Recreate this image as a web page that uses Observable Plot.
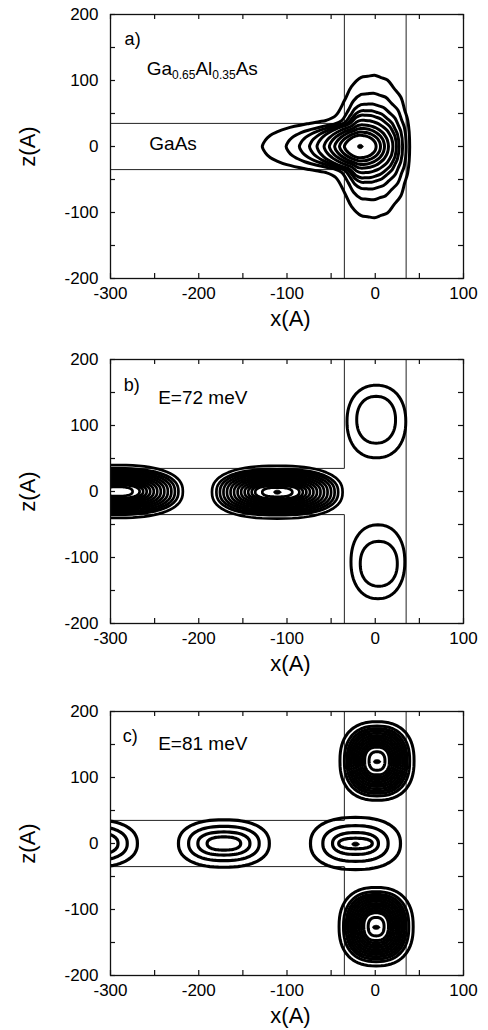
<!DOCTYPE html>
<html>
<head>
<meta charset="utf-8">
<script src="https://cdn.jsdelivr.net/npm/d3@7"></script>
<script src="https://cdn.jsdelivr.net/npm/@observablehq/plot@0.6"></script>
<style>
  html, body { margin: 0; padding: 0; background: #fff; }
  svg { display: block; }
</style>
</head>
<body>
<div id="chart"></div>
<script>
const FONT = "'Liberation Sans', Arial, Helvetica, sans-serif";

// ---- axes ----
const xTickLabels = [-300, -200, -100, 0, 100];
const zTickLabels = [-200, -100, 0, 100, 200];
const xMinorTicks = [-300, -250, -200, -150, -100, -50, 0, 50, 100];
const zMinorTicks = [-200, -150, -100, -50, 0, 50, 100, 150, 200];

// ---- T-shaped structure outline (GaAs wire along x, slab along z) ----
const structX = [[-300, -35, -35], [-300, -35, -35], [35, 35]];
const structZ = [[35, 35, 200], [-35, -35, -200], [200, -200]];

// ---- panel a: ground state, teardrop contours ----
const aCenterX = -17, aCenterZ = 0;
const aLeft  = [111, 84, 69, 57.5, 49, 41, 35, 29, 23.5, 18];   // distance centre -> left tip
const aRight = [56, 52, 48, 44, 41, 37, 32, 27.5, 23, 18];      // distance centre -> right edge
const aTop   = [108, 81, 65, 55, 48, 40, 33, 27.5, 22, 17];     // max height
const aTail  = [1, 0.9, 0.75, 0.6, 0.45, 0.35, 0.25, 0.15, 0.08, 0]; // share of the wire tail
const aShapeX = [-1, -0.97, -0.92, -0.85, -0.75, -0.52, -0.35, -0.25, -0.16, -0.09, 0.02, 0.29, 0.55, 0.82, 0.96, 1];
const aShapeZ = [0, 0.085, 0.155, 0.204, 0.255, 0.324, 0.365, 0.435, 0.648, 0.839, 0.97, 1.0, 0.933, 0.694, 0.37, 0];

// ---- panel b: E = 72 meV ----
const bWireCX = [-292, -111];
const bWireCZ = [0, -1];
const bWireHW = [74, 69, 65, 61, 57, 53, 49, 45, 41, 37, 33, 29, 25, 17];
const bWireHH = [40, 35, 32.5, 30, 27.5, 25, 22.5, 20, 17.5, 15, 13, 11.5, 10, 7];
const bSlabCX = [1.3, 1, 3, 4];
const bSlabCZ = [106, 108.7, -106.5, -109.5];
const bSlabHW = [33.3, 22, 30.5, 21];
const bSlabHH = [55, 35.5, 56, 34];
const bDotX = [-111], bDotZ = [-1];

// ---- panel c: E = 81 meV ----
const cWireCX = [-321, -171.5, -22.4];
const cWireHW = [[51.5, 40, 29.5, 19], [51.5, 40, 29.5, 19], [51, 37, 26, 19]];
const cWireHH = [[36, 26, 17.5, 10], [36, 26, 17.5, 10], [39.5, 27, 16.5, 8]];
const cSlabCX = [2, 1];
const cSlabCZ = [125, -126];
const cSlabHW = [42, 37, 34, 31.5, 29, 26.5, 24, 21.5, 19, 16.5, 14, 9];
const cSlabHH = [59.5, 53, 49, 45.5, 42, 38.5, 35, 31.5, 28, 24.5, 21, 14];
const cDotX = [2, 1, -22.4], cDotZ = [124, -127, -1];

// ---------- layout constants ----------
const W = 488, ML = 110, MR = 25, MT = 14, PH = 264, TICK = 5;
const X0 = -300, X1 = 100, Z0 = -200, Z1 = 200;
const tickDX = TICK * (X1 - X0) / (W - ML - MR);
const tickDZ = TICK * (Z1 - Z0) / PH;

// ---------- geometry helpers ----------
function ringRows(id, cx, cz, hw, hh, p = 2, n = 72) {
  const rows = [];
  for (let i = 0; i < n; i++) {
    const t = 2 * Math.PI * i / n;
    const c = Math.cos(t), s = Math.sin(t);
    rows.push({
      ring: id,
      x: cx + hw * Math.sign(c) * Math.pow(Math.abs(c), 2 / p),
      z: cz + hh * Math.sign(s) * Math.pow(Math.abs(s), 2 / p)
    });
  }
  return rows;
}

function structRows() {
  const rows = [];
  structX.forEach((xs, k) => xs.forEach((x, j) => rows.push({seg: k, x, z: structZ[k][j]})));
  return rows;
}

function teardropRows() {
  const tmpl = d3.scaleLinear().domain(aShapeX).range(aShapeZ);
  const egg = nx => nx >= 0 ? Math.sqrt(Math.max(0, 1 - nx * nx))
                            : Math.pow(Math.max(0, 1 - Math.pow(-nx, 1.8)), 0.65);
  const extra = [-0.42, 0.15, 0.42, 0.68, 0.9];
  const nxs = Array.from(new Set([...aShapeX, ...extra])).sort((a, b) => a - b);
  const rows = [];
  aLeft.forEach((L, k) => {
    const R = aRight[k], T = aTop[k], t = aTail[k];
    const pt = nx => ({
      x: aCenterX + (nx < 0 ? nx * L : nx * R),
      h: T * (t * tmpl(nx) + (1 - t) * egg(nx))
    });
    const upper = nxs.map(pt);
    upper.forEach(p => rows.push({ring: k, x: p.x, z: aCenterZ + p.h}));
    upper.slice(1, -1).reverse().forEach(p => rows.push({ring: k, x: p.x, z: aCenterZ - p.h}));
  });
  return rows;
}

const fmt = d => `${d}`;

// ---------- panel builder ----------
function panel({height, marginBottom, marks}) {
  return Plot.plot({
    width: W,
    height,
    marginLeft: ML,
    marginRight: MR,
    marginTop: MT,
    marginBottom,
    x: {domain: [X0, X1], label: null},
    y: {domain: [Z0, Z1], label: null},
    style: {fontFamily: FONT, fontSize: "17px", color: "black", background: "white", overflow: "visible"},
    marks: [
      Plot.line(structRows(), {x: "x", y: "z", z: "seg", stroke: "#222", strokeWidth: 1}),
      ...marks,
      Plot.frame({stroke: "#111", strokeWidth: 1.3}),
      // inward ticks on all four sides
      Plot.ruleX(xMinorTicks, {x: d => d, y1: Z0, y2: Z0 + tickDZ, stroke: "#111", strokeWidth: 1.2}),
      Plot.ruleX(xMinorTicks, {x: d => d, y1: Z1, y2: Z1 - tickDZ, stroke: "#111", strokeWidth: 1.2}),
      Plot.ruleY(zMinorTicks, {y: d => d, x1: X0, x2: X0 + tickDX, stroke: "#111", strokeWidth: 1.2}),
      Plot.ruleY(zMinorTicks, {y: d => d, x1: X1, x2: X1 - tickDX, stroke: "#111", strokeWidth: 1.2}),
      Plot.axisX({ticks: xTickLabels, anchor: "bottom", tickSize: 0, tickPadding: 8, tickFormat: fmt, fill: "black"}),
      Plot.axisY({ticks: zTickLabels, anchor: "left", tickSize: 0, tickPadding: 12, tickFormat: fmt, fill: "black"}),
      Plot.text(["x(A)"], {x: -96, y: Z0, dy: 40, text: d => d, fontSize: 22, fill: "black"}),
      Plot.text(["z(A)"], {x: X0, y: 0, dx: -83, text: d => d, rotate: -90, fontSize: 22, fill: "black"})
    ]
  });
}

const lab = (s, x, z, size = 19) =>
  Plot.text([s], {x, y: z, text: d => d, textAnchor: "start", lineAnchor: "bottom", fontSize: size, fill: "black"});

// ---------- panel a ----------
const svgA = panel({
  height: 345, marginBottom: 67,
  marks: [
    Plot.line(teardropRows(), {x: "x", y: "z", z: "ring", curve: "catmull-rom-closed", stroke: "black", strokeWidth: 3, clip: true}),
    Plot.line(ringRows("dot", aCenterX, aCenterZ, 3, 3.2), {x: "x", y: "z", z: "ring", curve: "linear-closed", fill: "black", stroke: "black", strokeWidth: 1}),
    lab("a)", -284, 154, 18),
    lab("Ga0.65Al0.35As", -259, 108.6, 19),
    lab("GaAs", -256, -6, 19)
  ]
});

// ---------- panel b ----------
const bRows = [];
bWireCX.forEach((cx, j) => bWireHW.forEach((hw, k) => bRows.push(...ringRows(`w${j}-${k}`, cx, bWireCZ[j], hw, bWireHH[k], 2.4))));
const bSlabRows = [];
bSlabCX.forEach((cx, k) => bSlabRows.push(...ringRows(`s${k}`, cx, bSlabCZ[k], bSlabHW[k], bSlabHH[k], 2.2)));
const bDots = [];
bDotX.forEach((x, k) => bDots.push(...ringRows(`d${k}`, x, bDotZ[k], 4, 3)));

const svgB = panel({
  height: 352, marginBottom: 74,
  marks: [
    Plot.line(bRows, {x: "x", y: "z", z: "ring", curve: "linear-closed", stroke: "black", strokeWidth: 2.7, clip: true}),
    Plot.line(bSlabRows, {x: "x", y: "z", z: "ring", curve: "linear-closed", stroke: "black", strokeWidth: 3, clip: true}),
    Plot.line(bDots, {x: "x", y: "z", z: "ring", curve: "linear-closed", fill: "black", stroke: "black", strokeWidth: 1}),
    lab("b)", -285, 153, 18),
    lab("E=72 meV", -246, 133, 19)
  ]
});

// ---------- panel c ----------
const cRows = [];
cWireCX.forEach((cx, j) => cWireHW[j].forEach((hw, k) => cRows.push(...ringRows(`w${j}-${k}`, cx, 0, hw, cWireHH[j][k], 2.3))));
const cSlabRows = [];
cSlabCX.forEach((cx, j) => cSlabHW.forEach((hw, k) => cSlabRows.push(...ringRows(`s${j}-${k}`, cx, cSlabCZ[j], hw, cSlabHH[k], 2.4))));
const cDots = [];
cDotX.forEach((x, k) => cDots.push(...ringRows(`d${k}`, x, cDotZ[k], 4, 3)));

const svgC = panel({
  height: 333, marginBottom: 55,
  marks: [
    Plot.line(cRows, {x: "x", y: "z", z: "ring", curve: "linear-closed", stroke: "black", strokeWidth: 3.2, clip: true}),
    Plot.line(cSlabRows, {x: "x", y: "z", z: "ring", curve: "linear-closed", stroke: "black", strokeWidth: 3, clip: true}),
    Plot.line(cDots, {x: "x", y: "z", z: "ring", curve: "linear-closed", fill: "black", stroke: "black", strokeWidth: 1}),
    lab("c)", -286, 153.5, 18),
    lab("E=81 meV", -246, 141, 19)
  ]
});

// subscripts for the alloy label
svgA.querySelectorAll("text").forEach(t => {
  if (t.textContent === "Ga0.65Al0.35As") {
    t.textContent = "";
    const parts = [["Ga", 0, null], ["0.65", 4, 12], ["Al", -4, null], ["0.35", 4, 12], ["As", -4, null]];
    parts.forEach(([s, dy, fs]) => {
      const sp = document.createElementNS("http://www.w3.org/2000/svg", "tspan");
      sp.textContent = s;
      if (dy) sp.setAttribute("dy", dy);
      if (fs) sp.setAttribute("font-size", fs);
      t.appendChild(sp);
    });
  }
});

document.getElementById("chart").append(svgA, svgB, svgC);
</script>
</body>
</html>
